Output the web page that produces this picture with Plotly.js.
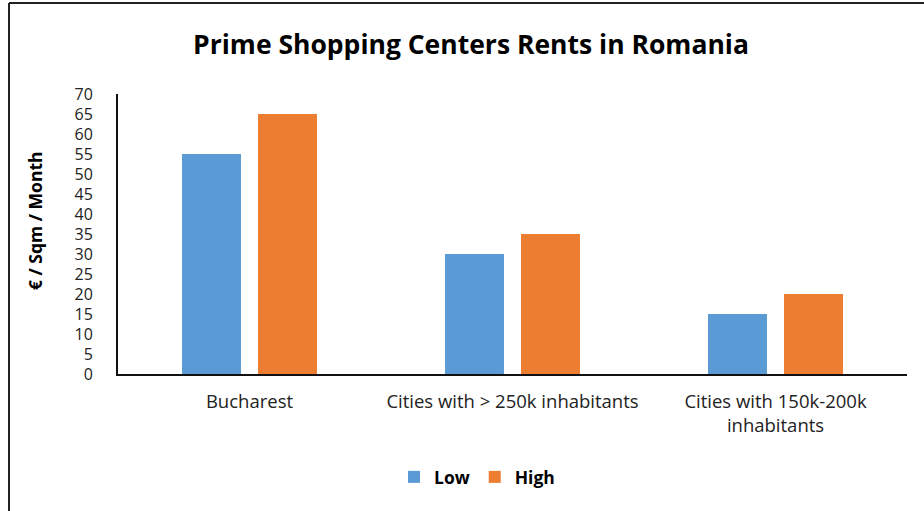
<!DOCTYPE html>
<html>
<head>
<meta charset="utf-8">
<script src="https://cdn.plot.ly/plotly-3.0.1.min.js"></script>
<style>
  html, body { margin: 0; padding: 0; background: #fff; }
  #chart { width: 924px; height: 511px; }
</style>
</head>
<body>
<div id="chart"></div>
<script>
const categories = ["Bucharest", "Cities with > 250k inhabitants", "Cities with 150k-200k<br>inhabitants"];
const lowValues = [55, 30, 15];
const highValues = [65, 35, 20];
const seriesNames = ["Low", "High"];
const yTickValues = [0, 5, 10, 15, 20, 25, 30, 35, 40, 45, 50, 55, 60, 65, 70];
const yAxisTitle = "€ / Sqm / Month";
const chartTitle = "Prime Shopping Centers Rents in Romania";

const FONT = "'Open Sans', Lato, sans-serif";

const traces = [
  { type: "bar", name: seriesNames[0], x: categories, y: lowValues, marker: { color: "#5B9BD5" }, hoverinfo: "x+y" },
  { type: "bar", name: seriesNames[1], x: categories, y: highValues, marker: { color: "#ED7D31" }, hoverinfo: "x+y" }
];

const W = 924, H = 511;
const mL = 118, mR = 17, mT = 94, mB = 137;
const pw = W - mL - mR, ph = H - mT - mB;
const px = v => (v - mL) / pw;
const py = v => (H - mB - v) / ph;

const layout = {
  width: W, height: H,
  margin: { l: mL, r: mR, t: mT, b: mB, pad: 0 },
  paper_bgcolor: "#fff", plot_bgcolor: "#fff",
  font: { family: FONT, color: "#222", size: 16 },
  title: {
    text: "<b>" + chartTitle + "</b>",
    font: { family: FONT, size: 26.5, color: "#000" },
    xref: "container", yref: "container", x: 471 / W, y: 1 - 45 / H, xanchor: "center", yanchor: "middle"
  },
  barmode: "group", bargap: 0.422, bargroupgap: 0.224,
  xaxis: {
    showgrid: false, zeroline: false, showline: true, linecolor: "#111", linewidth: 2,
    ticks: "", ticklabelstandoff: 10, tickfont: { family: FONT, size: 18.5, color: "#222" }, automargin: false
  },
  yaxis: {
    range: [0, 70], tickvals: yTickValues, showgrid: false, zeroline: false,
    showline: true, linecolor: "#111", linewidth: 2, ticks: "", ticklabelstandoff: 20,
    tickfont: { family: FONT, size: 16, color: "#222" }, automargin: false
  },
  annotations: [
    { text: "<b>" + yAxisTitle + "</b>", xref: "paper", yref: "paper", x: px(35), y: py(221),
      xanchor: "center", yanchor: "middle", textangle: -90, showarrow: false,
      font: { family: FONT, size: 17.5, color: "#000" } }
  ],
  showlegend: true,
  legend: {
    orientation: "h", x: px(477), xanchor: "center", y: py(477), yanchor: "middle",
    font: { family: FONT, size: 17.5, color: "#000", weight: "bold" }, itemwidth: 30, traceorder: "normal"
  },
  shapes: [
    { type: "line", xref: "paper", yref: "paper", x0: px(9), x1: px(924), y0: py(3), y1: py(3), line: { color: "#222", width: 2 } },
    { type: "line", xref: "paper", yref: "paper", x0: px(9), x1: px(9), y0: py(3), y1: py(511), line: { color: "#222", width: 2 } }
  ]
};

Plotly.newPlot("chart", traces, layout, { displayModeBar: false, staticPlot: true });
</script>
</body>
</html>
